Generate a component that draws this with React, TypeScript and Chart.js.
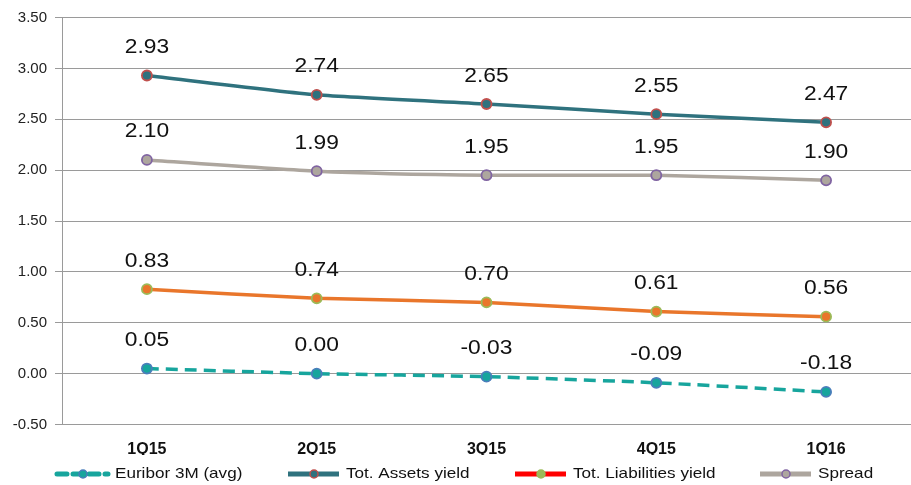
import React, { useEffect, useRef } from "react";
import { Chart, registerables } from "chart.js";

Chart.register(...registerables);

const categories = ["1Q15", "2Q15", "3Q15", "4Q15", "1Q16"];
const euribor = [0.05, 0.0, -0.03, -0.09, -0.18];
const assetsYield = [2.93, 2.74, 2.65, 2.55, 2.47];
const liabilitiesYield = [0.83, 0.74, 0.7, 0.61, 0.56];
const spread = [2.1, 1.99, 1.95, 1.95, 1.9];
const yTicks = [-0.5, 0, 0.5, 1, 1.5, 2, 2.5, 3, 3.5];

const FONT = "'Liberation Sans', Arial, sans-serif";
const STRETCH = 1.14;

type LegendItem = {
  label: string;
  line: string;
  fill: string;
  border: string;
  dash: number[];
  x: number;
};

const legendItems: LegendItem[] = [
  { label: "Euribor 3M (avg)", line: "#17A59D", fill: "#17A59D", border: "#4A7EBB", dash: [10, 6], x: 55 },
  { label: "Tot. Assets yield", line: "#2F727E", fill: "#2F727E", border: "#C0504D", dash: [], x: 286 },
  { label: "Tot. Liabilities yield", line: "#FF0000", fill: "#9BBB59", border: "#9BBB59", dash: [], x: 513 },
  { label: "Spread", line: "#ADA69E", fill: "#ADA69E", border: "#8064A2", dash: [], x: 758 },
];

const dataLabelPlugin = {
  id: "dataLabels",
  afterDatasetsDraw(chart: any) {
    const ctx = chart.ctx;
    ctx.save();
    ctx.font = `20px ${FONT}`;
    ctx.fillStyle = "#111";
    ctx.textAlign = "center";
    ctx.textBaseline = "middle";
    chart.data.datasets.forEach((ds: any, i: number) => {
      const meta = chart.getDatasetMeta(i);
      meta.data.forEach((pt: any, j: number) => {
        const v = ds.data[j] as number;
        ctx.save();
        ctx.translate(pt.x, pt.y - 28);
        ctx.scale(STRETCH, 1);
        ctx.fillText(v.toFixed(2), 0, 0);
        ctx.restore();
      });
    });
    ctx.restore();
  },
};

const legendPlugin = {
  id: "customLegend",
  afterDraw(chart: any) {
    const ctx = chart.ctx;
    const y = 474;
    ctx.save();
    legendItems.forEach((it) => {
      ctx.strokeStyle = it.line;
      ctx.lineWidth = 5;
      ctx.lineCap = it.dash.length ? "round" : "butt";
      ctx.setLineDash(it.dash);
      ctx.beginPath();
      ctx.moveTo(it.x + 2, y);
      ctx.lineTo(it.x + 53, y);
      ctx.stroke();
      ctx.setLineDash([]);
      ctx.beginPath();
      ctx.arc(it.x + 28, y, 4, 0, Math.PI * 2);
      ctx.fillStyle = it.fill;
      ctx.fill();
      ctx.lineWidth = 1.5;
      ctx.strokeStyle = it.border;
      ctx.stroke();
      ctx.fillStyle = "#111";
      ctx.font = `15px ${FONT}`;
      ctx.textAlign = "left";
      ctx.textBaseline = "middle";
      ctx.save();
      ctx.translate(it.x + 60, y);
      ctx.scale(STRETCH, 1);
      ctx.fillText(it.label, 0, 0);
      ctx.restore();
    });
    ctx.restore();
  },
};

export default function App() {
  const ref = useRef<HTMLCanvasElement>(null);
  useEffect(() => {
    document.body.style.margin = "0";
    const ds = (label: string, data: number[], line: string, fill: string, border: string, dash: number[] = []) => ({
      label,
      data,
      borderColor: line,
      backgroundColor: line,
      borderWidth: 3.5,
      borderDash: dash,
      pointRadius: 5,
      pointBorderWidth: 1.8,
      pointBackgroundColor: fill,
      pointBorderColor: border,
      tension: 0.2,
      fill: false,
    });
    const chart = new Chart(ref.current!, {
      type: "line",
      data: {
        labels: categories,
        datasets: [
          ds("Spread", spread, "#ADA69E", "#ADA69E", "#8064A2"),
          ds("Tot. Liabilities yield", liabilitiesYield, "#E9762B", "#E9762B", "#9BBB59"),
          ds("Tot. Assets yield", assetsYield, "#2F727E", "#2F727E", "#C0504D"),
          ds("Euribor 3M (avg)", euribor, "#17A59D", "#17A59D", "#4A7EBB", [12, 7]),
        ],
      },
      options: {
        animation: false,
        responsive: false,
        layout: { autoPadding: false, padding: { top: 17.5, right: 0, bottom: 30, left: 0 } },
        plugins: { legend: { display: false }, tooltip: { enabled: false } },
        scales: {
          x: {
            offset: true,
            grid: { display: false, drawTicks: false },
            border: { display: false },
            ticks: { font: { family: FONT, size: 16, weight: "bold" }, color: "#111", padding: 15 },
            afterFit: (s: any) => {
              s.height = 30.5;
              s.paddingLeft = 0;
              s.paddingRight = 0;
            },
          },
          y: {
            min: -0.5,
            max: 3.5,
            afterBuildTicks: (s: any) => { s.ticks = yTicks.map((v) => ({ value: v })); },
            grid: { color: "#9A9A9A", lineWidth: 1, tickLength: 7 },
            border: { display: true, color: "#9A9A9A", width: 1 },
            ticks: {
              font: { family: FONT, size: 15 },
              color: "#222",
              padding: 8,
              callback: (v: any) => Number(v).toFixed(2),
            },
            afterFit: (s: any) => {
              s.width = 62;
              s.paddingTop = 0;
              s.paddingBottom = 0;
            },
          },
        },
      },
      plugins: [dataLabelPlugin, legendPlugin],
    });
    return () => chart.destroy();
  }, []);
  return <canvas ref={ref} width={911} height={485} style={{ display: "block" }} />;
}
